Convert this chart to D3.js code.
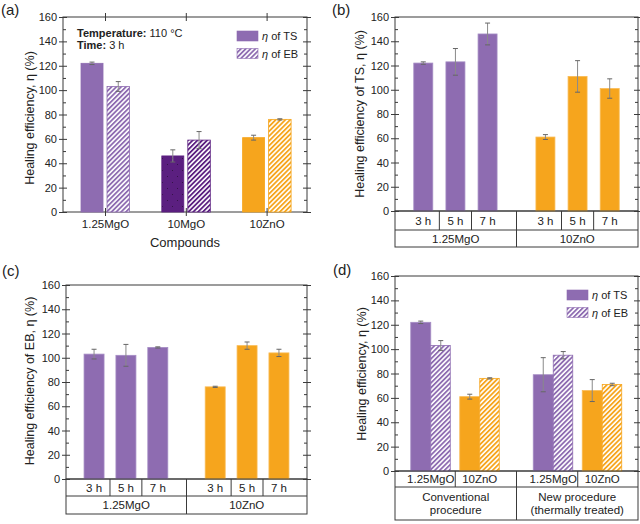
<!DOCTYPE html>
<html><head><meta charset="utf-8">
<script src="https://cdn.jsdelivr.net/npm/d3@7"></script>
<style>body{margin:0;background:#fff} text{font-family:"Liberation Sans",Arial,sans-serif;fill:#222}</style>
</head><body><svg id="c" width="640" height="524"></svg>
<script>
// ---------- data ----------
const yTicks = [0,20,40,60,80,100,120,140,160];
const yMinor = [10,30,50,70,90,110,130,150];
// panel (a)
const aCompounds = ["1.25MgO","10MgO","10ZnO"];
const aTS = [122,46,61], aTSErr = [1,5,2];
const aEB = [103,59,76], aEBErr = [4,7,0.5];
// panels (b),(c)
const timeLabels = ["3 h","5 h","7 h"];
const timeGroups = ["1.25MgO","10ZnO"];
const bMgO = [122,123,146], bMgOErr = [1,11,9];
const bZnO = [61,111,101],  bZnOErr = [2,13,8];
const cMgO = [103,102,108.5], cMgOErr = [4,9,0.5];
const cZnO = [76,110,104],   cZnOErr = [0.5,3,3];
// panel (d)
const dCompounds = ["1.25MgO","10ZnO","1.25MgO","10ZnO"];
const dProcedures = [["Conventional","procedure"],["New procedure","(thermally treated)"]];
const dTS = [122,61,79,66], dTSErr = [1,2,14,9];
const dEB = [103,76,95,71], dEBErr = [4,0.5,3,1];

const PURPLE = "#8e6cb1", DARK = "#5b1f80", ORANGE = "#f6a51d";
const AX = "#3a3a3a";
const TF = "11.5px";

const svg = d3.select("#c");
const defs = svg.append("defs");
function hatch(id, color){
  const p = defs.append("pattern").attr("id",id).attr("patternUnits","userSpaceOnUse")
    .attr("width",3.4).attr("height",3.4).attr("patternTransform","rotate(45)");
  p.append("rect").attr("width",3.4).attr("height",3.4).attr("fill","#fff");
  p.append("rect").attr("width",1.8).attr("height",3.4).attr("fill",color);
}
hatch("hP",PURPLE); hatch("hD",DARK); hatch("hO",ORANGE);
{
  const p = defs.append("pattern").attr("id","dotD").attr("patternUnits","userSpaceOnUse")
    .attr("width",10).attr("height",12);
  p.append("rect").attr("width",10).attr("height",12).attr("fill",DARK);
  p.append("rect").attr("x",2).attr("y",2).attr("width",0.9).attr("height",0.9).attr("fill","#2a0f3a");
  p.append("rect").attr("x",7).attr("y",8).attr("width",0.9).attr("height",0.9).attr("fill","#2a0f3a");
}

function frame(x0,x1,y0,y1){
  const y = d3.scaleLinear().domain([0,160]).range([y1,y0]);
  const g = svg.append("g");
  g.append("g").attr("transform",`translate(${x0},0)`)
    .call(d3.axisLeft(y).tickValues(yMinor).tickSize(-3).tickFormat(""));
  g.append("g").attr("transform",`translate(${x1},0)`)
    .call(d3.axisRight(y).tickValues(yMinor).tickSize(-3).tickFormat(""));
  const left = g.append("g").attr("transform",`translate(${x0},0)`)
    .call(d3.axisLeft(y).tickValues(yTicks).tickSize(4).tickPadding(2));
  left.selectAll(".tick line").attr("x1",4);
  left.selectAll("text").style("font-size","11px");
  const right = g.append("g").attr("transform",`translate(${x1},0)`)
    .call(d3.axisRight(y).tickValues(yTicks).tickSize(4).tickFormat(""));
  right.selectAll(".tick line").attr("x1",-4);
  g.selectAll(".domain").remove();
  g.selectAll(".tick line").attr("stroke",AX);
  svg.append("rect").attr("x",x0).attr("y",y0).attr("width",x1-x0).attr("height",y1-y0)
    .attr("fill","none").attr("stroke",AX).attr("stroke-width",1);
  return y;
}
function bar(xl,xr,y,v,fill,stroke){
  svg.append("rect").attr("x",xl).attr("y",y(v)).attr("width",xr-xl).attr("height",y(0)-y(v))
    .attr("fill",fill).attr("stroke",stroke||"none").attr("stroke-width",stroke?0.8:0);
}
function err(xc,y,v,e){
  svg.append("line").attr("x1",xc).attr("x2",xc).attr("y1",y(v-e)).attr("y2",y(v+e))
    .attr("stroke","#8a8a8a").attr("stroke-width",1);
  [v-e,v+e].forEach(t=>svg.append("line").attr("x1",xc-2.5).attr("x2",xc+2.5)
    .attr("y1",y(t)).attr("y2",y(t)).attr("stroke","#666").attr("stroke-width",1));
}
function ytitle(x,yc,txt){
  svg.append("text").attr("transform",`translate(${x},${yc}) rotate(-90)`)
    .attr("text-anchor","middle").attr("dy","0.35em").style("font-size","12.5px").text(txt);
}
function plabel(x,y,t){
  svg.append("text").attr("x",x).attr("y",y).style("font-size","15px").text(t);
}
function legend(x,y){
  [["hP",PURPLE,"TS",true],["hP",PURPLE,"EB",false]].forEach((d,i)=>{
    const yy = y + i*17.5;
    svg.append("rect").attr("x",x).attr("y",yy).attr("width",21).attr("height",10)
      .attr("fill", d[3]?PURPLE:"url(#hP)").attr("stroke",PURPLE).attr("stroke-width",0.6);
    const t = svg.append("text").attr("x",x+25).attr("y",yy+9).style("font-size","11px");
    t.append("tspan").style("font-style","italic").text("η");
    t.append("tspan").text(" of "+d[2]);
  });
}

// ---------- panel (a) ----------
{
  const x0=63,x1=307,y0=17,y1=212;
  const y = frame(x0,x1,y0,y1);
  const x = d3.scaleLinear().domain([0.48,3.5]).range([x0,x1]);
  const tsFill = ["#8e6cb1","url(#dotD)",ORANGE], tsCol=[PURPLE,DARK,ORANGE];
  const ebFill = ["url(#hP)","url(#hD)","url(#hO)"];
  aCompounds.forEach((c,i)=>{
    const xc = x(i+1);
    bar(xc-24,xc-2,y,aTS[i],tsFill[i],tsCol[i]);
    bar(xc+2,xc+24.5,y,aEB[i],ebFill[i],tsCol[i]);
    err(xc-13,y,aTS[i],aTSErr[i]);
    err(xc+13.25,y,aEB[i],aEBErr[i]);
  });
  const bx = svg.append("g").attr("transform",`translate(0,${y1})`)
    .call(d3.axisBottom(x).tickValues([1,2,3]).tickSize(4).tickPadding(4).tickFormat(d=>aCompounds[d-1]));
  bx.selectAll(".tick line").attr("y1",-4).attr("stroke",AX);
  bx.selectAll("text").style("font-size",TF);
  bx.select(".domain").remove();
  const tx = svg.append("g").attr("transform",`translate(0,${y0})`)
    .call(d3.axisTop(x).tickValues([1,2,3]).tickSize(4).tickFormat(""));
  tx.selectAll(".tick line").attr("y1",4).attr("stroke",AX);
  tx.select(".domain").remove();
  svg.append("text").attr("x",(x0+x1)/2).attr("y",247).attr("text-anchor","middle")
    .style("font-size","13px").text("Compounds");
  ytitle(30,118,"Healing efficiency, η (%)");
  plabel(1,15,"(a)");
  const t1 = svg.append("text").attr("x",77).attr("y",37).style("font-size","11px");
  t1.append("tspan").style("font-weight","bold").text("Temperature:");
  t1.append("tspan").text(" 110 °C");
  const t2 = svg.append("text").attr("x",77).attr("y",48.5).style("font-size","11px");
  t2.append("tspan").style("font-weight","bold").text("Time:");
  t2.append("tspan").text(" 3 h");
  legend(237,31);
}

// ---------- panels (b),(c) ----------
function timePanel(x0,x1,y0,y1,r1,r2,mg,mgE,zn,znE,bw){
  const y = frame(x0,x1,y0,y1);
  const x = d3.scaleLinear().domain([0.12,7.68]).range([x0,x1]);
  const pos = [1,2,3,4.8,5.8,6.8];
  const vals = mg.concat(zn), errs = mgE.concat(znE);
  pos.forEach((p,i)=>{
    const col = i<3?PURPLE:ORANGE;
    bar(x(p)-bw/2,x(p)+bw/2,y,vals[i],col,i<3?"#a58cc4":"#f9bb55");
    err(x(p),y,vals[i],errs[i]);
  });
  const g = svg.append("g");
  g.append("rect").attr("x",x0).attr("y",y1).attr("width",x1-x0).attr("height",r2-y1)
    .attr("fill","none").attr("stroke",AX);
  g.append("line").attr("x1",x0).attr("x2",x1).attr("y1",r1).attr("y2",r1).attr("stroke",AX);
  for(let i=0;i<5;i++){
    const m = x((pos[i]+pos[i+1])/2);
    g.append("line").attr("x1",m).attr("x2",m).attr("y1",y1).attr("y2",i===2?r2:r1).attr("stroke",AX);
  }
  pos.forEach((p,i)=>g.append("text").attr("x",x(p)).attr("y",(y1+r1)/2).attr("dy","0.36em")
    .attr("text-anchor","middle").style("font-size",TF).text(timeLabels[i%3]));
  const mid = x((pos[2]+pos[3])/2);
  [[x0,mid],[mid,x1]].forEach((s,i)=>g.append("text").attr("x",(s[0]+s[1])/2).attr("y",(r1+r2)/2)
    .attr("dy","0.36em").attr("text-anchor","middle").style("font-size",TF).text(timeGroups[i]));
  return y;
}
timePanel(395,638,17,211,230,247,bMgO,bMgOErr,bZnO,bZnOErr,19);
ytitle(360,114,"Healing efficiency of TS, η (%)");
plabel(332,15,"(b)");
timePanel(66,307,285,479,496,514,cMgO,cMgOErr,cZnO,cZnOErr,20);
ytitle(30,381,"Healing efficiency of EB, η (%)");
plabel(2,276,"(c)");

// ---------- panel (d) ----------
{
  const x0=395,x1=638,y0=276,y1=471,r1=487,r2=520;
  const y = frame(x0,x1,y0,y1);
  const x = d3.scaleLinear().domain([0.27,5.23]).range([x0,x1]);
  const pos = [1,2,3.5,4.5];
  pos.forEach((p,i)=>{
    const isMg = i%2===0;
    const col = isMg?PURPLE:ORANGE;
    const xc = x(p);
    bar(xc-20,xc,y,dTS[i],col,isMg?"#a58cc4":"#f9bb55");
    bar(xc,xc+19.5,y,dEB[i],isMg?"url(#hP)":"url(#hO)",col);
    err(xc-10,y,dTS[i],dTSErr[i]);
    err(xc+10,y,dEB[i],dEBErr[i]);
  });
  const g = svg.append("g");
  g.append("rect").attr("x",x0).attr("y",y1).attr("width",x1-x0).attr("height",r2-y1)
    .attr("fill","none").attr("stroke",AX);
  g.append("line").attr("x1",x0).attr("x2",x1).attr("y1",r1).attr("y2",r1).attr("stroke",AX);
  [[1.5,r1],[2.75,r2],[4,r1]].forEach(d=>g.append("line").attr("x1",x(d[0])).attr("x2",x(d[0]))
    .attr("y1",y1).attr("y2",d[1]).attr("stroke",AX));
  pos.forEach((p,i)=>g.append("text").attr("x",x(p)).attr("y",(y1+r1)/2).attr("dy","0.36em")
    .attr("text-anchor","middle").style("font-size",TF).text(dCompounds[i]));
  const mid = x(2.75);
  [[x0,mid],[mid,x1]].forEach((s,i)=>{
    const t = g.append("text").attr("x",(s[0]+s[1])/2).attr("y",(r1+r2)/2-6.5).attr("dy","0.36em")
      .attr("text-anchor","middle").style("font-size",TF);
    dProcedures[i].forEach((l,j)=>t.append("tspan").attr("x",(s[0]+s[1])/2).attr("dy",j?"13":"0.36em").text(l));
  });
  ytitle(362,374,"Healing efficiency, η (%)");
  plabel(333,275,"(d)");
  legend(567,290);
}
</script></body></html>
